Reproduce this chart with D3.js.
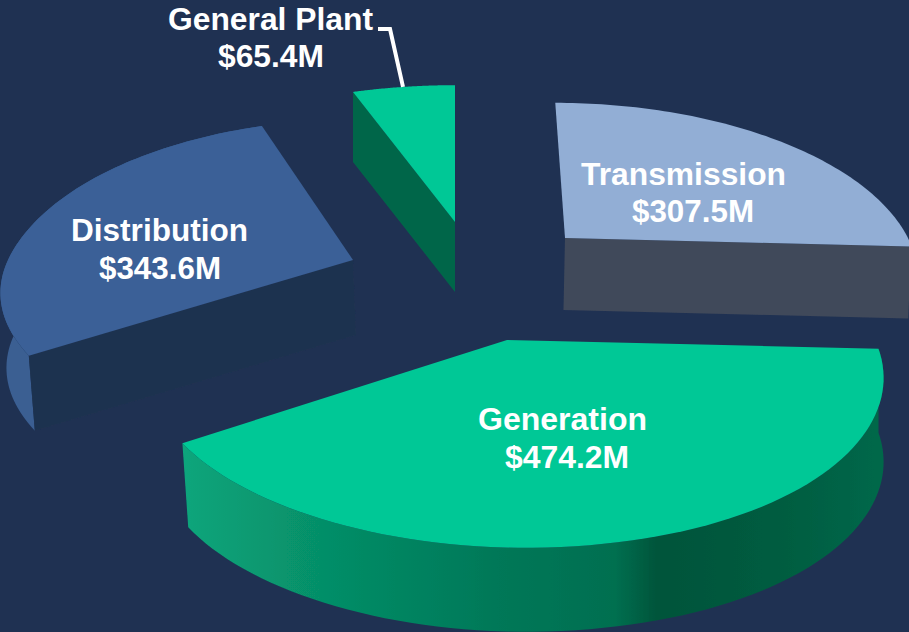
<!DOCTYPE html>
<html><head><meta charset="utf-8">
<script src="https://cdn.jsdelivr.net/npm/d3@7/dist/d3.min.js"></script>
<style>html,body{margin:0;padding:0;background:#1f3152;overflow:hidden}svg{display:block}</style>
</head><body><div id="chart"></div>
<script>
const categories = ["Transmission", "Generation", "Distribution", "General Plant"];
const values = [307.5, 474.2, 343.6, 65.4];

const topColors = ["#92aed5", "#00c896", "#3a6097", "#00c896"];
const sideColors = [null, "url(#genSide)", "#3a5e92", null];
const cutColors = ["#40495a", null, "#1f3350", "#05664a"];
const cutEdge = ["endAngle", null, "startAngle", "startAngle"];

const W = 909, H = 632;
// layout of each exploded slice: apex, half-axes (right/left, back/front), depth, skew
const layout = [
  {cx:565, cy:238, rx:343, rxL:343, ry:163, ryF:163, depth:72, lean:-3, leanL:0, shear:0.072, quad:0},
  {cx:507, cy:340, rx:368, rxL:350, ry:165, ryF:165, depth:84, lean:0,  leanL:7, shear:0, quad:0.0004},
  {cx:353, cy:260, rx:345, rxL:345, ry:170, ryF:153, depth:75, lean:6,  leanL:0, shear:-0.05, quad:0},
  {cx:455, cy:222, rx:360, rxL:360, ry:165, ryF:165, depth:70, lean:0,  leanL:0, shear:0, quad:0}
];
const labelLayout = [
  {x:[683.5,693], y:[185,222], w:[205,122]},
  {x:[562.5,567], y:[430,468], w:[169,124]},
  {x:[159.5,160], y:[241,279], w:[177,122]},
  {x:[270.5,271], y:[30,67],  w:[205,106]}
];
const persp = 0.206;

const svg = d3.select("#chart").append("svg").attr("width", W).attr("height", H);
svg.append("rect").attr("width", W).attr("height", H).attr("fill", "#1f3152");

const defs = svg.append("defs");
defs.append("filter").attr("id","soft").append("feGaussianBlur").attr("stdDeviation",0.6);
const grad = defs.append("linearGradient").attr("id","genSide")
  .attr("gradientUnits","userSpaceOnUse").attr("x1",179).attr("x2",883).attr("y1",0).attr("y2",0);
[[0,"#0aa67c"],[0.2,"#068f68"],[0.45,"#067858"],[0.62,"#066f50"],[0.68,"#03543a"],[0.85,"#045c40"],[1,"#04684a"]]
  .forEach(s => grad.append("stop").attr("offset",s[0]).attr("stop-color",s[1]));

const pie = d3.pie().sort(null).startAngle(0).endAngle(2*Math.PI);
const arcs = pie(values);
const line = d3.line().x(d => d[0]).y(d => d[1]);

function project(l, a, dropped) {
  const u = Math.sin(a), v = -Math.cos(a), s = 1/(1 - persp*v);
  const y = (v < 0 ? l.ry : l.ryF)*v*s;
  const x = (u < 0 ? l.rxL : l.rx)*u*s + l.shear*Math.min(y,0) + l.quad*y*Math.abs(y);
  const drift = dropped ? l.lean + l.leanL*Math.max(0,-u) : 0;
  return [l.cx + x + drift, l.cy + y + (dropped ? l.depth : 0)];
}
function arcPoints(l, a0, a1, dropped) {
  const n = 80;
  return d3.range(n+1).map(i => project(l, a0 + (a1-a0)*i/n, dropped));
}

const pieG = svg.append("g").attr("filter","url(#soft)");
// draw back slices first
[3, 2, 0, 1].forEach(i => {
  const a = arcs[i], l = layout[i], g = pieG.append("g");
  const topArc = arcPoints(l, a.startAngle, a.endAngle, false);
  if (sideColors[i]) {
    const botArc = arcPoints(l, a.startAngle, a.endAngle, true);
    g.append("path").attr("d", line(topArc.concat(botArc.slice().reverse())) + "Z").attr("fill", sideColors[i]);
  }
  const apex = [l.cx, l.cy];
  if (cutColors[i]) {
    const rim = project(l, a[cutEdge[i]], false), rimLow = project(l, a[cutEdge[i]], true);
    g.append("path").attr("d", line([apex, rim, rimLow, [apex[0]+l.lean*0.5, apex[1]+l.depth]]) + "Z")
      .attr("fill", cutColors[i]);
  }
  g.append("path").attr("d", line([apex].concat(topArc)) + "Z").attr("fill", topColors[i]);
});

// leader line of General Plant
const leaderStart = 378, leaderElbow = 390, leaderRow = 29;
const gpTop = project(layout[3], arcs[3].startAngle + (arcs[3].endAngle-arcs[3].startAngle)*0.5, false);
svg.append("path")
  .attr("d", line([[leaderStart,leaderRow],[leaderElbow,leaderRow],[403,gpTop[1]]]))
  .attr("fill","none").attr("stroke","#fff").attr("stroke-width",4);

// labels
categories.forEach((c, i) => {
  const p = labelLayout[i];
  [c, "$" + values[i].toFixed(1) + "M"].forEach((t, j) => {
    svg.append("text").text(t)
      .attr("x", p.x[j]).attr("y", p.y[j])
      .attr("text-anchor","middle")
      .attr("textLength", p.w[j]).attr("lengthAdjust","spacingAndGlyphs")
      .attr("font-family","'Liberation Sans', Arial, sans-serif")
      .attr("font-weight","bold").attr("font-size",31).attr("fill","#fff");
  });
});
</script></body></html>
